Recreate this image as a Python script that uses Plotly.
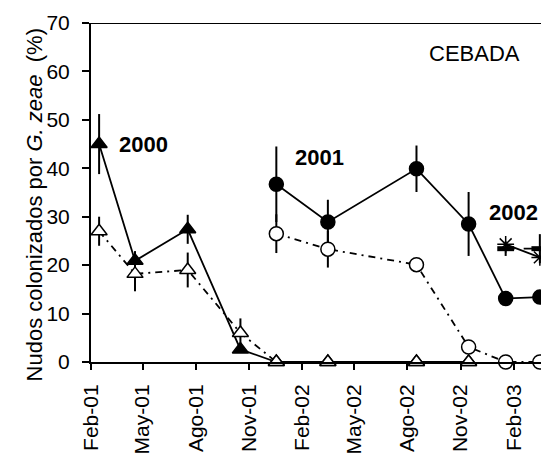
import plotly.graph_objects as go

# Sampling dates
dates = ["2001-02-15", "2001-04-18", "2001-07-18", "2001-10-17", "2001-12-18",
         "2002-03-17", "2002-08-17", "2002-11-15", "2003-01-18", "2003-03-18"]

# 2000 cohort (triangles)
d2000 = dates[0:8]
tri_filled = [45.0, 20.9, 27.4, 2.6, 0, 0, 0, 0]
tri_filled_err = [6.2, 2.0, 3.0, 0, 0, 0, 0, 0]
tri_open = [27.0, 18.2, 19.0, 6.0, 0, 0, 0, 0]
tri_open_err = [3.0, 3.6, 3.6, 3.0, 0, 0, 0, 0]

# 2001 cohort (circles)
d2001 = dates[4:10]
circ_filled = [36.7, 28.9, 39.9, 28.5, 13.1, 13.4]
circ_filled_err = [7.8, 4.6, 4.8, 6.6, 0, 0]
circ_open = [26.5, 23.3, 20.1, 3.1, 0, 0]
circ_open_err = [4.0, 3.8, 0, 0, 0, 0]

# 2002 cohort
d2002 = dates[8:10]
star_vals = [24.3, 21.6]
dash_vals = [23.4, 23.4]
dash_err = [1.5, 3.0]

tick_vals = ["2001-02-01", "2001-05-01", "2001-08-01", "2001-11-01", "2002-02-01",
             "2002-05-01", "2002-08-01", "2002-11-01", "2003-02-01"]
tick_text = ["Feb-01", "May-01", "Ago-01", "Nov-01", "Feb-02",
             "May-02", "Ago-02", "Nov-02", "Feb-03"]

FONT = "Liberation Sans, Arial, sans-serif"
DASH = "7px,5px,2px,5px"

fig = go.Figure()

def add(x, y, err, symbol, mcolor, dash, lw=1.8, size=13, mline=1.5):
    fig.add_trace(go.Scatter(
        x=x, y=y, mode="lines+markers",
        line=dict(color="black", width=lw, dash=dash),
        marker=dict(symbol=symbol, size=size, color=mcolor,
                    line=dict(color="black", width=mline)),
        error_y=dict(type="data", array=err, visible=True, width=0,
                     thickness=2, color="black") if err is not None else None,
        showlegend=False, cliponaxis=False))

add(d2000, tri_filled, tri_filled_err, "triangle-up", "black", "solid", size=14)
add(d2000, tri_open, tri_open_err, "triangle-up", "white", DASH, size=14)
add(d2001, circ_filled, circ_filled_err, "circle", "black", "solid", size=14)
add(d2001, circ_open, circ_open_err, "circle", "white", DASH, size=14)
add(d2002, dash_vals, dash_err, "line-ew-open", "black", "dash", size=12, mline=5)
add(d2002, star_vals, None, "asterisk-open", "black", "solid", size=14, mline=1.5)

fig.add_shape(type="line", xref="paper", yref="y", x0=0, x1=1, y0=70, y1=70,
              line=dict(color="black", width=2))

annots = [
    dict(x="2001-03-18", y=44.9, text="<b>2000</b>", xanchor="left", size=22),
    dict(x="2002-01-15", y=42.2, text="<b>2001</b>", xanchor="left", size=22),
    dict(x="2003-03-19", y=30.9, text="<b>2002</b>", xanchor="right", size=22),
    dict(x="2002-09-05", y=63.8, text="CEBADA", xanchor="left", size=22),
]
for a in annots:
    fig.add_annotation(x=a["x"], y=a["y"], xref="x", yref="y", text=a["text"],
                       showarrow=False, xanchor=a["xanchor"], yanchor="middle",
                       font=dict(family=FONT, size=a["size"], color="black"))

fig.add_annotation(xref="paper", yref="paper", x=-0.125, y=0.464,
                   text="Nudos colonizados por <i>G. zeae</i>  (%)",
                   textangle=-90, showarrow=False, xanchor="center", yanchor="middle",
                   font=dict(family=FONT, size=22, color="black"))

fig.update_layout(
    width=541, height=454,
    margin=dict(l=91, r=0, t=23, b=88),
    paper_bgcolor="white", plot_bgcolor="white",
    font=dict(family=FONT, size=21, color="black"),
    xaxis=dict(range=["2001-02-01", "2003-03-20"], tickvals=tick_vals, ticktext=tick_text,
               tickangle=-90, showgrid=False, zeroline=False, showline=True,
               linecolor="black", linewidth=2, ticks="outside", ticklen=6,
               tickcolor="black", tickwidth=1.5, ticklabelstandoff=6),
    yaxis=dict(range=[0, 70], dtick=10, showgrid=False, zeroline=False, showline=True,
               linecolor="black", linewidth=2, ticks="outside", ticklen=7,
               tickcolor="black", tickwidth=1.5, ticklabelstandoff=8),
)

fig.write_html("out.html")
